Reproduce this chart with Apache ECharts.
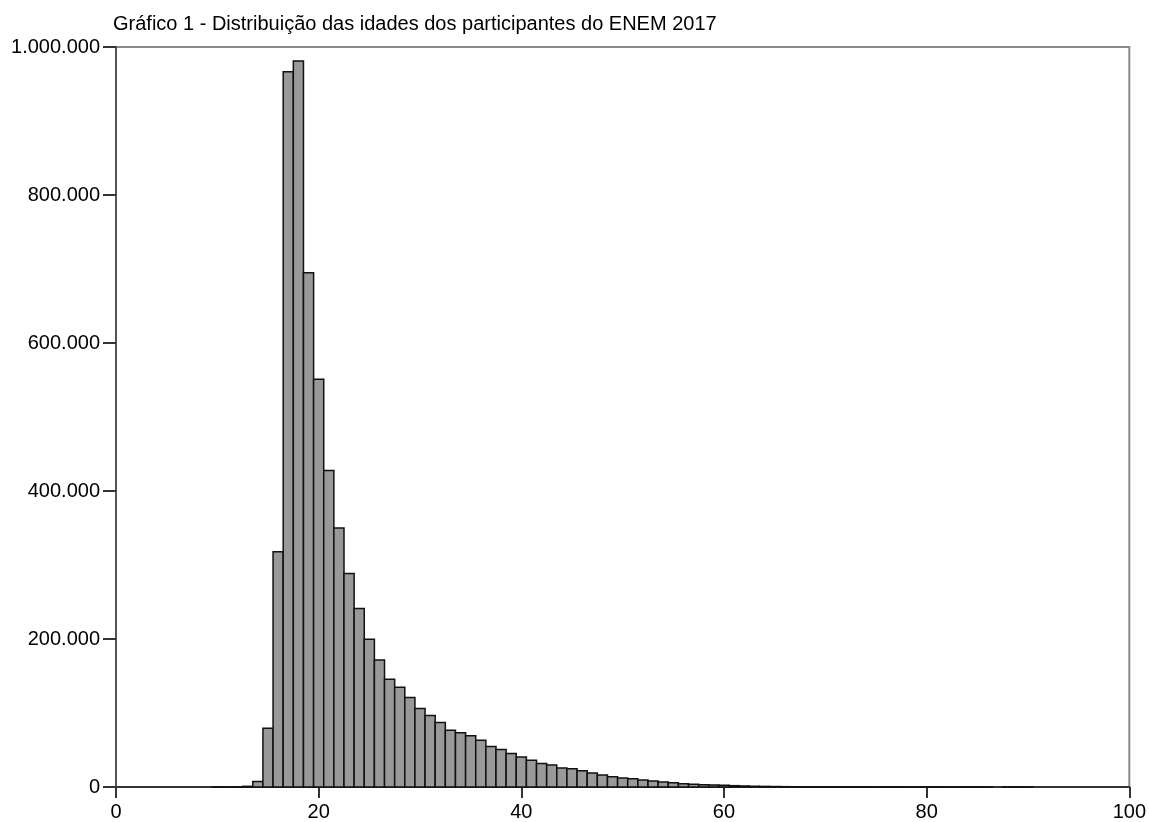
<!DOCTYPE html>
<html>
<head>
<meta charset="utf-8">
<script src="https://cdn.jsdelivr.net/npm/echarts@6/dist/echarts.min.js"></script>
<style>
html,body{margin:0;padding:0;background:#fff;}
#chart{width:1149px;height:822px;}
</style>
</head>
<body>
<div id="chart"></div>
<script>
const titleText = "Gráfico 1 - Distribuição das idades dos participantes do ENEM 2017";
const ages = [10,11,12,13,14,15,16,17,18,19,20,21,22,23,24,25,26,27,28,29,30,31,32,33,34,35,36,37,38,39,40,41,42,43,44,45,46,47,48,49,50,51,52,53,54,55,56,57,58,59,60,61,62,63,64,65,66,67,68,69,70,71,72,73,74,75,76,77,78,79,80,81,82,83,84,85,86,88,89,90];
const counts = [20,40,150,900,7500,79500,318000,966700,981000,695000,551000,427600,350000,288400,241200,199500,171600,145500,134800,120900,106000,96600,87200,76800,73200,69100,63300,54800,50800,45400,40400,36000,31900,29600,25600,24700,22000,18900,16200,13900,12100,11200,9400,8100,6700,5800,4500,3600,3100,2700,2200,1800,1400,1000,800,600,450,350,270,200,150,120,95,75,60,48,38,30,24,19,15,12,10,8,6,5,4,3,2,2];
const xTicks = [0,20,40,60,80,100];
const yTicks = [0,200000,400000,600000,800000,1000000];

function fmt(v){ return String(v).replace(/\B(?=(\d{3})+(?!\d))/g, '.'); }

const data = ages.map((a,i)=>[a, counts[i]]);
const chart = echarts.init(document.getElementById('chart'), null, {renderer:'canvas'});
chart.setOption({
  animation:false,
  backgroundColor:'#fff',
  title:{
    text:titleText, left:108, top:9,
    textStyle:{fontFamily:'Liberation Sans, Arial', fontSize:20, fontWeight:'normal', color:'#000'}
  },
  grid:{left:116, right:16, top:47, bottom:33, show:true, borderColor:'#8a8a8a', borderWidth:2, containLabel:false},
  xAxis:{
    type:'value', min:xTicks[0], max:xTicks[xTicks.length-1], interval:20,
    axisLine:{show:true, lineStyle:{color:'#333', width:2}},
    axisTick:{show:true, length:11, lineStyle:{color:'#333', width:2}},
    axisLabel:{margin:15, color:'#000', fontSize:20, fontFamily:'Liberation Sans, Arial', showMaxLabel:true},
    splitLine:{show:false}
  },
  yAxis:{
    type:'value', min:yTicks[0], max:yTicks[yTicks.length-1], interval:200000,
    axisLine:{show:true, lineStyle:{color:'#555', width:2}},
    axisTick:{show:true, length:13, lineStyle:{color:'#333', width:2}},
    axisLabel:{margin:16, color:'#000', fontSize:20, fontFamily:'Liberation Sans, Arial', formatter:fmt},
    splitLine:{show:false}
  },
  series:[{
    type:'custom',
    data:data,
    clip:false,
    renderItem:function(params, api){
      const x = api.value(0), y = api.value(1);
      const p1 = api.coord([x-0.5, y]);
      const p2 = api.coord([x+0.5, 0]);
      return {
        type:'rect',
        shape:{x:p1[0], y:p1[1], width:p2[0]-p1[0], height:p2[1]-p1[1]},
        style:{fill:'#999999', stroke:'#111', lineWidth:1.5}
      };
    },
    encode:{x:0, y:1}
  }]
});
</script>
</body>
</html>
